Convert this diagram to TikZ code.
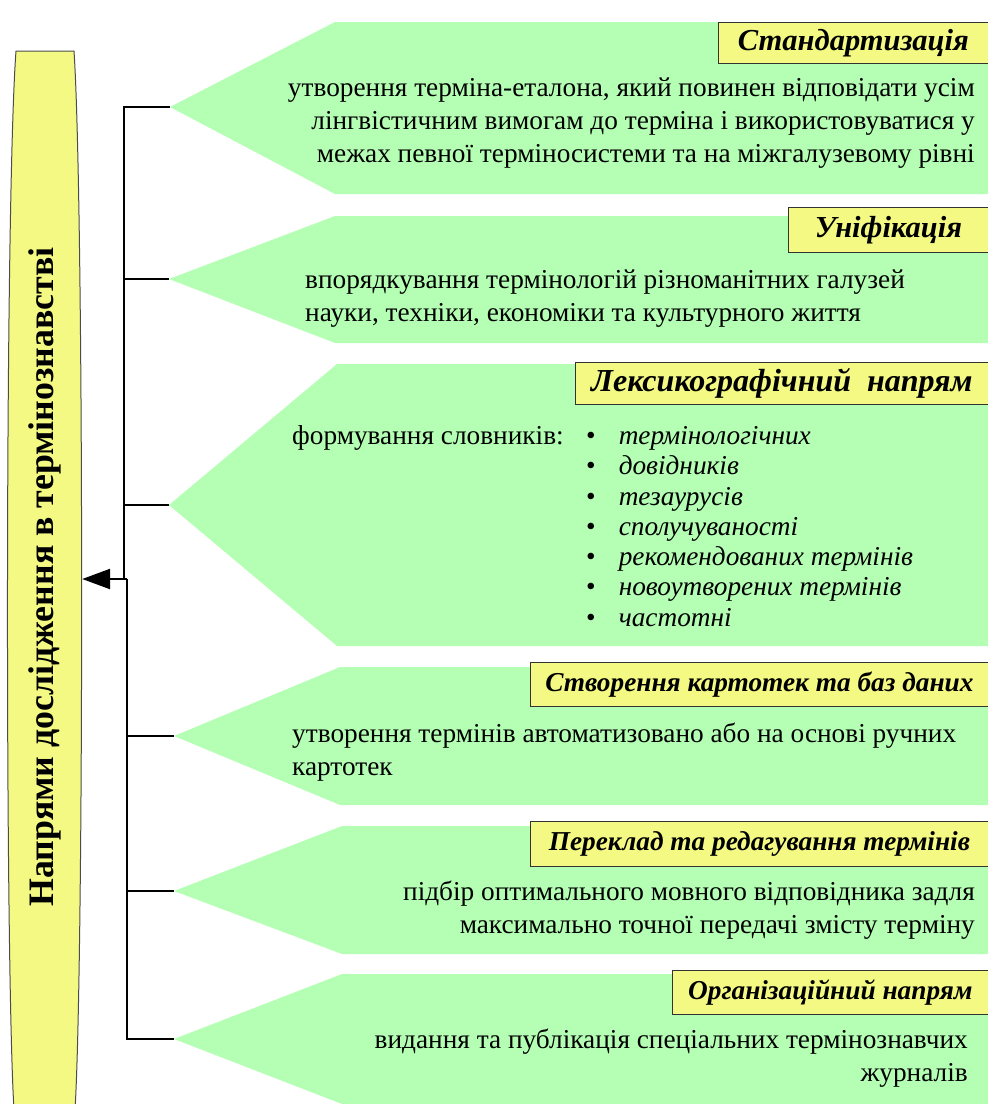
\documentclass[tikz,border=0pt]{standalone}
\usepackage{fontspec}
\setmainfont{Liberation Serif}
\usepackage{tikz}
\usetikzlibrary{arrows.meta,calc,positioning}
\usepackage{xcolor}
\definecolor{lgreen}{RGB}{180,255,180}
\definecolor{lyellow}{RGB}{243,249,130}

\begin{document}
\begin{tikzpicture}[x=1pt,y=-1pt,
    pent/.style={fill=lgreen,draw=none},
    hdr/.style={draw=black!80,line width=1.2pt,fill=lyellow,anchor=north east,inner sep=0pt,
                font=\fontsize{30.5}{34}\selectfont\bfseries\itshape},
    hdrs/.style={hdr,font=\fontsize{27.3}{31}\selectfont\bfseries\itshape},
    body/.style={inner sep=0pt,font=\fontsize{27.3}{33}\selectfont},
    conn/.style={draw=black,line width=2.5pt}]
            \useasboundingbox (0,0) rectangle (988,1104);
            \clip (0,0) rectangle (988,1104);

            % the yellow column on the left
            \fill[lyellow,draw=black!70,line width=1pt] (16,51) -- (74,51)
                .. controls (84,200) and (84,960) .. (75,1110) -- (14,1110)
                .. controls (5,960) and (5,200) .. (16,51);
            \node (title) [rotate=90,minimum height=74pt,inner sep=0pt,
                font=\fontsize{35.8}{40}\selectfont\bfseries] at (45,577)
                {Напрями дослідження в термінознавстві};

            % the six arrow-shaped panels
            \fill[pent] (170,107) -- (335,22) -- (990,22) -- (990,194) -- (335,194) -- cycle;
            \coordinate (t1) at (170,107);
            \fill[pent] (169,279) -- (335,216) -- (990,216) -- (990,343) -- (335,343) -- cycle;
            \coordinate (t2) at (169,279);
            \fill[pent] (169,505) -- (337,364) -- (990,364) -- (990,646) -- (337,646) -- cycle;
            \coordinate (t3) at (169,505);
            \fill[pent] (174,736) -- (340,667) -- (990,667) -- (990,805) -- (340,805) -- cycle;
            \coordinate (t4) at (174,736);
            \fill[pent] (174,891) -- (342,826) -- (990,826) -- (990,954) -- (342,954) -- cycle;
            \coordinate (t5) at (174,891);
            \fill[pent] (174,1039) -- (342,974) -- (990,974) -- (990,1104) -- (342,1104) -- cycle;
            \coordinate (t6) at (174,1039);

            % headings
            \node (h1) [hdr,minimum width=270pt,minimum height=41pt] at (989,22) {Стандартизація};
            \node (h2) [hdr,minimum width=200pt,minimum height=45pt] at (989,207) {Уніфікація};
            \node (h3) [hdr,minimum width=413pt,minimum height=42pt,font=\fontsize{32}{36}\selectfont\bfseries\itshape]
                at (989,362) {Лексикографічний\ \ напрям};
            \node (h4) [hdrs,minimum width=458pt,minimum height=44pt] at (989,662) {Створення картотек та баз даних};
            \node (h5) [hdrs,minimum width=458pt,minimum height=45pt] at (989,821) {Переклад та редагування термінів};
            \node (h6) [hdrs,minimum width=316pt,minimum height=44pt] at (989,970) {Організаційний напрям};

            % texts
            \node (b1) [body,align=right,anchor=east] at (975,123)
                {утворення терміна-еталона, який повинен відповідати усім\\
                 лінгвістичним вимогам до терміна і використовуватися у\\
                 межах певної терміносистеми та на міжгалузевому рівні};
            \node (b2) [body,align=left,anchor=west] at (305,299)
                {впорядкування термінологій різноманітних галузей\\
                 науки, техніки, економіки та культурного життя};
            \node (b3) [body,anchor=west] at (292,438) {формування словників:};
            \node (list) [inner sep=0pt,anchor=north west,font=\fontsize{27.3}{30.3}\selectfont] at (586,423)
                {\begin{tabular}{@{}l@{\hspace{23pt}}l@{}}
                 • & \textit{термінологічних}\\
                 • & \textit{довідників}\\
                 • & \textit{тезаурусів}\\
                 • & \textit{сполучуваності}\\
                 • & \textit{рекомендованих термінів}\\
                 • & \textit{новоутворених термінів}\\
                 • & \textit{частотні}
                 \end{tabular}};
            \node (b4) [body,align=left,anchor=west] at (292,752)
                {утворення термінів автоматизовано або на основі ручних\\
                 картотек};
            \node (b5) [body,align=right,anchor=east] at (975,910)
                {підбір оптимального мовного відповідника задля\\
                 максимально точної передачі змісту терміну};
            \node (b6) [body,align=right,anchor=east] at (968,1058)
                {видання та публікація спеціальних термінознавчих\\
                 журналів};

            % connectors
            \coordinate (ju) at (124,579);
            \coordinate (jl) at (127,579);
            \draw[conn] (t1) -| (ju);
            \draw[conn] (t2) -| (ju);
            \draw[conn] (t3) -| (ju);
            \draw[conn] (t4) -| (jl);
            \draw[conn] (t5) -| (jl);
            \draw[conn] (t6) -| (jl);
            \draw[conn,-{Triangle[length=28pt,width=20pt]}] (jl) -- (title.south |- jl);

        \end{tikzpicture}
\end{document}
